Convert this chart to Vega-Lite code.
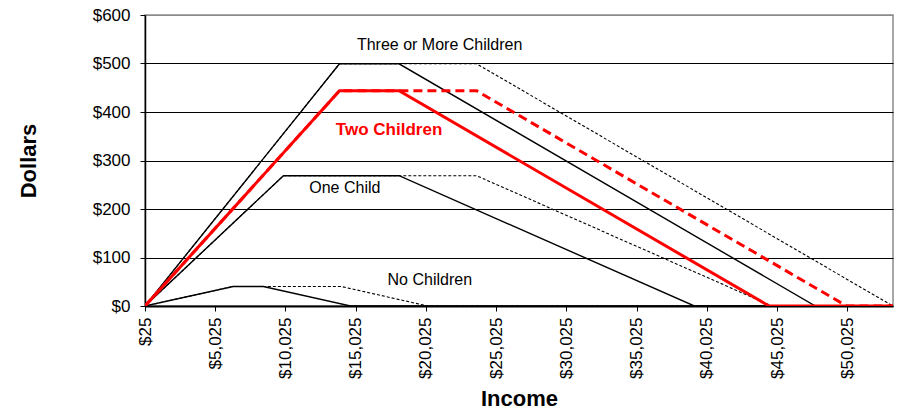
{
  "$schema": "https://vega.github.io/schema/vega-lite/v6.json",
  "width": 748,
  "height": 291,
  "autosize": {"type": "none"},
  "padding": {"left": 145, "top": 15, "right": 14, "bottom": 106},
  "background": "white",
  "config": {
    "view": {"stroke": "#8a8a8a", "strokeWidth": 1.5},
    "font": "Liberation Sans",
    "axis": {"labelFont": "Liberation Sans", "titleFont": "Liberation Sans", "labelColor": "black", "titleColor": "black", "domainColor": "black", "tickColor": "black"}
  },
  "datasets": {
    "lines": [
      {"series": "No Children", "status": "single", "income": 25, "dollars": 0},
      {"series": "No Children", "status": "single", "income": 6300, "dollars": 40.2},
      {"series": "No Children", "status": "single", "income": 8450, "dollars": 40.2},
      {"series": "No Children", "status": "single", "income": 14650, "dollars": 0},
      {"series": "No Children", "status": "single", "income": 53275, "dollars": 0},
      {"series": "No Children (married)", "status": "married", "income": 25, "dollars": 0},
      {"series": "No Children (married)", "status": "married", "income": 6300, "dollars": 40.2},
      {"series": "No Children (married)", "status": "married", "income": 14000, "dollars": 40.2},
      {"series": "No Children (married)", "status": "married", "income": 20150, "dollars": 0},
      {"series": "No Children (married)", "status": "married", "income": 53275, "dollars": 0},
      {"series": "One Child", "status": "single", "income": 25, "dollars": 0},
      {"series": "One Child", "status": "single", "income": 9880, "dollars": 268.7},
      {"series": "One Child", "status": "single", "income": 18110, "dollars": 268.7},
      {"series": "One Child", "status": "single", "income": 39131, "dollars": 0},
      {"series": "One Child", "status": "single", "income": 53275, "dollars": 0},
      {"series": "One Child (married)", "status": "married", "income": 25, "dollars": 0},
      {"series": "One Child (married)", "status": "married", "income": 9880, "dollars": 268.7},
      {"series": "One Child (married)", "status": "married", "income": 23630, "dollars": 268.7},
      {"series": "One Child (married)", "status": "married", "income": 44651, "dollars": 0},
      {"series": "One Child (married)", "status": "married", "income": 53275, "dollars": 0},
      {"series": "Three or More Children", "status": "single", "income": 25, "dollars": 0},
      {"series": "Three or More Children", "status": "single", "income": 13870, "dollars": 499.4},
      {"series": "Three or More Children", "status": "single", "income": 18110, "dollars": 499.4},
      {"series": "Three or More Children", "status": "single", "income": 47747, "dollars": 0},
      {"series": "Three or More Children", "status": "single", "income": 53275, "dollars": 0},
      {"series": "Three or More Children (married)", "status": "married", "income": 25, "dollars": 0},
      {"series": "Three or More Children (married)", "status": "married", "income": 13870, "dollars": 499.4},
      {"series": "Three or More Children (married)", "status": "married", "income": 23630, "dollars": 499.4},
      {"series": "Three or More Children (married)", "status": "married", "income": 53267, "dollars": 0},
      {"series": "Three or More Children (married)", "status": "married", "income": 53275, "dollars": 0},
      {"series": "Two Children (married)", "status": "married", "income": 25, "dollars": 0},
      {"series": "Two Children (married)", "status": "married", "income": 13870, "dollars": 443.8},
      {"series": "Two Children (married)", "status": "married", "income": 23630, "dollars": 443.8},
      {"series": "Two Children (married)", "status": "married", "income": 49974, "dollars": 0},
      {"series": "Two Children (married)", "status": "married", "income": 53275, "dollars": 0},
      {"series": "Two Children", "status": "single", "income": 25, "dollars": 0},
      {"series": "Two Children", "status": "single", "income": 13870, "dollars": 443.8},
      {"series": "Two Children", "status": "single", "income": 18110, "dollars": 443.8},
      {"series": "Two Children", "status": "single", "income": 44454, "dollars": 0},
      {"series": "Two Children", "status": "single", "income": 53275, "dollars": 0}
    ],
    "labels": [
      {"label": "Three or More Children", "income": 21000, "dollars": 538, "style": "plain"},
      {"label": "One Child", "income": 14250, "dollars": 243, "style": "plain"},
      {"label": "No Children", "income": 20300, "dollars": 54, "style": "plain"},
      {"label": "Two Children", "income": 17400, "dollars": 363, "style": "red"}
    ]
  },
  "encoding": {
    "x": {
      "field": "income", "type": "quantitative",
      "scale": {"domain": [25, 53275], "nice": false, "zero": false},
      "axis": {
        "title": "Income",
        "titleFontSize": 22, "titleFontWeight": "bold", "titlePadding": 10,
        "values": [25, 5025, 10025, 15025, 20025, 25025, 30025, 35025, 40025, 45025, 50025],
        "format": "$,.0f",
        "labelAngle": -90, "labelFontSize": 17, "labelPadding": 6,
        "tickSize": 5, "grid": false, "domainWidth": 2, "labelFlush": false, "labelOverlap": false
      }
    },
    "y": {
      "field": "dollars", "type": "quantitative",
      "scale": {"domain": [0, 600], "nice": false},
      "axis": {
        "title": "Dollars",
        "titleFontSize": 22, "titleFontWeight": "bold", "titlePadding": 52,
        "values": [0, 100, 200, 300, 400, 500, 600],
        "format": "$,.0f",
        "labelFontSize": 17, "labelPadding": 10,
        "tickSize": 5, "grid": true,
        "gridColor": {"condition": {"test": "datum.value === 600", "value": "#8a8a8a"}, "value": "black"},
        "gridWidth": 1.2, "domainWidth": 1.5
      }
    }
  },
  "layer": [
    {
      "data": {"name": "lines"},
      "transform": [{"filter": "datum.status === 'single' && datum.series !== 'Two Children'"}],
      "mark": {"type": "line", "clip": true, "color": "black", "strokeWidth": 1.4},
      "encoding": {"detail": {"field": "series"}, "order": {"field": "income", "type": "quantitative"}}
    },
    {
      "data": {"name": "lines"},
      "transform": [{"filter": "datum.status === 'married' && datum.series !== 'Two Children (married)'"}],
      "mark": {"type": "line", "clip": true, "color": "black", "strokeWidth": 1.1, "strokeDash": [3, 2]},
      "encoding": {"detail": {"field": "series"}, "order": {"field": "income", "type": "quantitative"}}
    },
    {
      "data": {"name": "lines"},
      "transform": [{"filter": "datum.series === 'Two Children (married)'"}],
      "mark": {"type": "line", "clip": true, "color": "#ff0000", "strokeWidth": 3, "strokeDash": [9, 5]},
      "encoding": {"detail": {"field": "series"}, "order": {"field": "income", "type": "quantitative"}}
    },
    {
      "data": {"name": "lines"},
      "transform": [{"filter": "datum.series === 'Two Children'"}],
      "mark": {"type": "line", "clip": true, "color": "#ff0000", "strokeWidth": 3},
      "encoding": {"detail": {"field": "series"}, "order": {"field": "income", "type": "quantitative"}}
    },
    {
      "data": {"name": "labels"},
      "transform": [{"filter": "datum.style === 'plain'"}],
      "mark": {"type": "text", "font": "Liberation Sans", "fontSize": 16, "color": "black", "align": "center", "baseline": "middle"},
      "encoding": {"text": {"field": "label"}}
    },
    {
      "data": {"name": "labels"},
      "transform": [{"filter": "datum.style === 'red'"}],
      "mark": {"type": "text", "font": "Liberation Sans", "fontSize": 17, "fontWeight": "bold", "color": "#ff0000", "align": "center", "baseline": "middle"},
      "encoding": {"text": {"field": "label"}}
    }
  ]
}
